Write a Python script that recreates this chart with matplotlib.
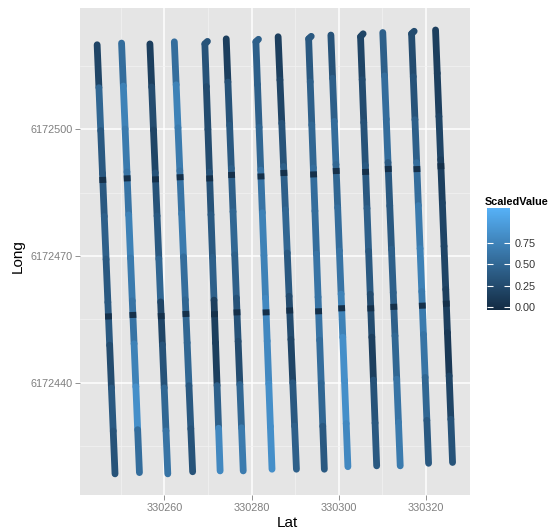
import numpy as np
import matplotlib
matplotlib.use("Agg")
import matplotlib.pyplot as plt
from matplotlib.collections import LineCollection
from matplotlib.colors import LinearSegmentedColormap, Normalize

plt.rcParams['font.family'] = ['Liberation Sans', 'DejaVu Sans']

## track ends (Lat / Long), top end then bottom end
top_lat = [330244.6, 330250.2, 330256.7, 330262.3, 330269.3, 330274.2, 330281.0,
           330286.1, 330293.1, 330298.2, 330305.0, 330310.1, 330316.7, 330322.2]
top_long = [6172520.0, 6172520.4, 6172520.2, 6172520.7, 6172520.2, 6172521.4, 6172520.7,
            6172521.9, 6172521.4, 6172522.3, 6172521.9, 6172522.9, 6172522.6, 6172523.5]
bot_lat = [330248.7, 330254.3, 330260.8, 330266.5, 330272.8, 330278.1, 330284.7,
           330290.3, 330296.7, 330302.1, 330308.7, 330314.1, 330320.6, 330326.1]
bot_long = [6172418.4, 6172418.7, 6172418.4, 6172418.9, 6172419.1, 6172419.1, 6172419.5,
            6172419.5, 6172419.5, 6172420.1, 6172420.3, 6172420.3, 6172420.9, 6172421.1]

## little turn at the top of some passes (None = no turn)
hook_lat = [None, None, None, None, 330269.9, None, 330281.6,
            None, 330293.7, None, 330305.6, None, 330317.3, None]
hook_long = [None, None, None, None, 6172520.8, None, 6172521.3,
             None, 6172522.0, None, 6172522.6, None, 6172523.2, None]

## ScaledValue along each pass, top -> bottom
vals = [
    [0.20, 0.50, 0.38, 0.38, 0.44, 0.38, 0.38, 0.26, 0.38, 0.32],
    [0.56, 0.74, 0.68, 0.62, 0.74, 0.68, 0.62, 0.74, 0.86, 0.56],
    [0.14, 0.26, 0.20, 0.32, 0.38, 0.50, 0.20, 0.32, 0.50, 0.62],
    [0.56, 0.74, 0.68, 0.62, 0.68, 0.56, 0.50, 0.50, 0.38, 0.32],
    [0.32, 0.26, 0.26, 0.32, 0.38, 0.44, 0.14, 0.14, 0.44, 0.80],
    [0.14, 0.32, 0.38, 0.44, 0.50, 0.44, 0.32, 0.26, 0.50, 0.68],
    [0.44, 0.44, 0.50, 0.62, 0.74, 0.74, 0.80, 0.80, 0.86, 0.86],
    [0.14, 0.20, 0.32, 0.44, 0.50, 0.38, 0.26, 0.20, 0.38, 0.44],
    [0.38, 0.44, 0.50, 0.56, 0.56, 0.62, 0.62, 0.56, 0.50, 0.38],
    [0.32, 0.44, 0.56, 0.50, 0.56, 0.62, 0.74, 0.86, 0.86, 0.80],
    [0.20, 0.26, 0.32, 0.38, 0.44, 0.38, 0.26, 0.14, 0.32, 0.38],
    [0.44, 0.56, 0.56, 0.38, 0.38, 0.44, 0.44, 0.50, 0.62, 0.68],
    [0.26, 0.32, 0.44, 0.56, 0.68, 0.74, 0.68, 0.62, 0.50, 0.38],
    [0.14, 0.14, 0.20, 0.14, 0.20, 0.20, 0.14, 0.08, 0.20, 0.32],
]

## low readings crossing every pass (fraction of the pass from the top)
dip_frac = [0.315, 0.633]
dip_len = 0.014
dip_val = 0.02

cmap = LinearSegmentedColormap.from_list('gg', ['#132B43', '#56B1F7'])
norm = Normalize(vmin=-0.04, vmax=1.17)

fig = plt.figure(figsize=(5.53, 5.30), dpi=100)
ax = fig.add_axes([80/553, 1-495/530, 390/553, 487/530])
ax.set_facecolor('#E5E5E5')

segs, cols = [], []
for i in range(len(vals)):
    n = len(vals[i])
    xs = np.linspace(top_lat[i], bot_lat[i], n + 1)
    ys = np.linspace(top_long[i], bot_long[i], n + 1)
    if hook_lat[i] is not None:
        segs.append([(hook_lat[i], hook_long[i]), (top_lat[i], top_long[i])])
        cols.append(vals[i][0])
    for k in range(n):
        segs.append([(xs[k], ys[k]), (xs[k+1], ys[k+1])])
        cols.append(vals[i][k])

lc = LineCollection(segs, cmap=cmap, norm=norm, linewidths=4.9, capstyle='round', zorder=3)
lc.set_array(np.array(cols))
ax.add_collection(lc)

dsegs = []
for i in range(len(vals)):
    for f in dip_frac:
        a, b = f - dip_len/2, f + dip_len/2
        dsegs.append([(top_lat[i] + a*(bot_lat[i]-top_lat[i]), top_long[i] + a*(bot_long[i]-top_long[i])),
                      (top_lat[i] + b*(bot_lat[i]-top_lat[i]), top_long[i] + b*(bot_long[i]-top_long[i]))])
dc = LineCollection(dsegs, cmap=cmap, norm=norm, linewidths=4.9, capstyle='butt', zorder=4)
dc.set_array(np.array([dip_val]*len(dsegs)))
ax.add_collection(dc)

ax.set_xlim(330240.67, 330330.1)
ax.set_ylim(6172413.4, 6172528.7)
ax.set_xticks([330260, 330280, 330300, 330320])
ax.set_yticks([6172440, 6172470, 6172500])
ax.set_xticks([330250, 330270, 330290, 330310, 330330], minor=True)
ax.set_yticks([6172425, 6172455, 6172485, 6172515], minor=True)
ax.ticklabel_format(useOffset=False, style='plain')
ax.grid(True, which='major', color='white', linewidth=1.1, zorder=1)
ax.grid(True, which='minor', color='#F2F2F2', linewidth=0.5, zorder=1)
ax.set_axisbelow(True)
for s in ax.spines.values():
    s.set_visible(False)
ax.tick_params(which='major', length=3.5, width=0.6, color='#7F7F7F',
               labelcolor='#7F7F7F', labelsize=7.8, pad=2)
ax.tick_params(which='minor', length=0)

fig.text(287/553, 1-523/530, 'Lat', ha='center', va='center', fontsize=11)
fig.text(18/553, 1-256/530, 'Long', ha='center', va='center', rotation=90, fontsize=11)

## colour bar
cax = fig.add_axes([486.7/553, 1-310/530, 23.3/553, 102/530])
cb = fig.colorbar(plt.cm.ScalarMappable(norm=norm, cmap=cmap), cax=cax)
cb.outline.set_visible(False)
cb.set_ticks([0, 0.25, 0.5, 0.75])
cb.set_ticklabels(['0.00', '0.25', '0.50', '0.75'])
cax.tick_params(direction='in', color='white', length=4, width=0.8,
                left=True, right=True, labelsize=7.8, labelcolor='#333333', pad=3)
fig.text(485/553, 1-201.7/530, 'ScaledValue', ha='left', va='center',
         fontsize=7.8, fontweight='bold')

fig.savefig('out.png', dpi=100)
